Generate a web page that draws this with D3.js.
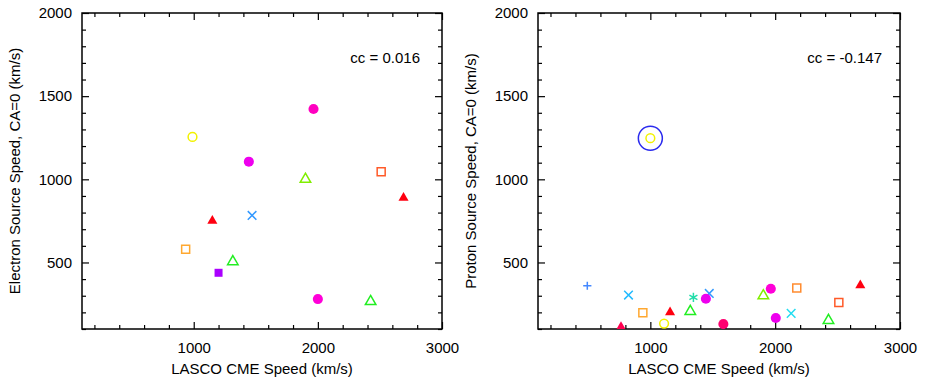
<!DOCTYPE html>
<html>
<head>
<meta charset="utf-8">
<script src="https://cdn.jsdelivr.net/npm/d3@7"></script>
<style>
  html, body { margin: 0; padding: 0; background: #fff; }
  svg { display: block; font-family: "Liberation Sans", Arial, Helvetica, sans-serif; }
</style>
</head>
<body>
<svg id="chart" width="925" height="388"></svg>
<script>
// ---------- Data ----------
// Electron panel (left)
const electronCME   = [990, 1965, 1444, 1900, 2510, 2690, 1150, 1470, 935, 1315, 1200, 2000, 2425];
const electronSpeed = [1255, 1423, 1106, 1000, 1045, 889, 750, 783, 580, 505, 438, 280, 265];
const electronMark  = ["yellowCircle", "pinkDot", "magentaDot", "limeTri", "redSquare", "redTri", "redTri",
                       "blueX", "orangeSquare", "greenTri", "purpleSquare", "magentaDot2", "greenTri"];
const electronCC = "cc = 0.016";

// Proton panel (right)
const protonCME   = [1000, 495, 825, 940, 765, 1110, 1158, 1320, 1345, 1472, 1445, 1585, 1905, 1965, 2005, 2128, 2173, 2427, 2510, 2682];
const protonSpeed = [1247, 360, 304, 198, 112, 133, 200, 206, 290, 314, 282, 130, 300, 342, 166, 194, 346, 152, 260, 362];
const protonMark  = ["yellowCircle", "bluePlus", "cyanX", "orangeSquare", "crimsonTri", "yellowCircle", "redTri",
                     "greenTri", "tealStar", "blueX", "magentaDot", "crimsonDot", "limeTri", "magentaDot2",
                     "magentaDot", "cyanX2", "orangeSquare2", "greenTri", "redSquare", "redTri"];
const protonCC = "cc = -0.147";
const protonHighlight = [0]; // index of circled point

// Axis ticks
const xMajorTicks = [1000, 2000, 3000];
const yMajorTicks = [500, 1000, 1500, 2000];
const xDomain = [100, 3000];
const yDomain = [100, 2000];

// ---------- Marker styles ----------
const styles = {
  yellowCircle:  {type: d3.symbolCircle,   size: 60, fill: "none",    stroke: "#f2f200"},
  pinkDot:       {type: d3.symbolCircle,   size: 80, fill: "#ff00c0", stroke: "none"},
  magentaDot:    {type: d3.symbolCircle,   size: 80, fill: "#ee00ee", stroke: "none"},
  magentaDot2:   {type: d3.symbolCircle,   size: 80, fill: "#ff00d8", stroke: "none"},
  crimsonDot:    {type: d3.symbolCircle,   size: 80, fill: "#ff0070", stroke: "none"},
  limeTri:       {type: d3.symbolTriangle, size: 48, fill: "none",    stroke: "#80ee00"},
  greenTri:      {type: d3.symbolTriangle, size: 48, fill: "none",    stroke: "#22ee22"},
  redTri:        {type: d3.symbolTriangle, size: 44, fill: "#ff0010", stroke: "none"},
  crimsonTri:    {type: d3.symbolTriangle, size: 44, fill: "#ff0050", stroke: "none"},
  redSquare:     {type: d3.symbolSquare,   size: 64, fill: "none",    stroke: "#ff5a28"},
  orangeSquare:  {type: d3.symbolSquare,   size: 64, fill: "none",    stroke: "#ffa830"},
  orangeSquare2: {type: d3.symbolSquare,   size: 64, fill: "none",    stroke: "#ff8c30"},
  purpleSquare:  {type: d3.symbolSquare,   size: 64, fill: "#aa00ff", stroke: "none"},
  blueX:         {type: d3.symbolTimes,    size: 50, fill: "none",    stroke: "#3399ff"},
  cyanX:         {type: d3.symbolTimes,    size: 50, fill: "none",    stroke: "#22bbff"},
  cyanX2:        {type: d3.symbolTimes,    size: 50, fill: "none",    stroke: "#22ddf0"},
  bluePlus:      {type: d3.symbolPlus,     size: 24, fill: "none",    stroke: "#4488ff"},
  tealStar:      {type: d3.symbolAsterisk, size: 60, fill: "none",    stroke: "#22ddaa"}
};

// ---------- Layout ----------
const svg = d3.select("#chart");
const panels = [
  {left: 82, right: 442, cme: electronCME, speed: electronSpeed, mark: electronMark, cc: electronCC, ccX: 420,
   yTitle: "Electron Source Speed, CA=0 (km/s)", titleX: 15, highlight: []},
  {left: 538, right: 900, cme: protonCME, speed: protonSpeed, mark: protonMark, cc: protonCC, ccX: 882,
   yTitle: "Proton Source Speed, CA=0 (km/s)", titleX: 471, highlight: protonHighlight}
];
const plotTop = 13, plotBottom = 329;

function range(a, b, step) { const r = []; for (let v = a; v <= b + 1e-9; v += step) r.push(v); return r; }
const xMinor = range(200, 2800, 200).filter(v => !xMajorTicks.includes(v));
const yMinor = range(100, 1900, 100).filter(v => !yMajorTicks.includes(v));

panels.forEach(p => {
  const x = d3.scaleLinear().domain(xDomain).range([p.left, p.right]);
  const y = d3.scaleLinear().domain(yDomain).range([plotBottom, plotTop]);
  const g = svg.append("g");

  const styleAxis = sel => {
    sel.select(".domain").remove();
    sel.selectAll(".tick line").attr("stroke", "#000").attr("stroke-width", 1.2);
    sel.selectAll(".tick text").attr("fill", "#000").style("font-size", "15px")
       .style("font-family", "'Liberation Sans', Arial, sans-serif");
  };

  // bottom
  g.append("g").attr("transform", `translate(0,${plotBottom})`)
    .call(d3.axisBottom(x).tickValues(xMinor).tickSize(-4).tickFormat("")).call(styleAxis);
  g.append("g").attr("transform", `translate(0,${plotBottom})`)
    .call(d3.axisBottom(x).tickValues(xMajorTicks).tickSizeInner(-7).tickSizeOuter(0).tickPadding(13).tickFormat(d3.format("d")))
    .call(styleAxis);
  // top
  g.append("g").attr("transform", `translate(0,${plotTop})`)
    .call(d3.axisTop(x).tickValues(xMinor).tickSize(-4).tickFormat("")).call(styleAxis);
  g.append("g").attr("transform", `translate(0,${plotTop})`)
    .call(d3.axisTop(x).tickValues(xMajorTicks).tickSize(-7).tickFormat("")).call(styleAxis);
  // left
  g.append("g").attr("transform", `translate(${p.left},0)`)
    .call(d3.axisLeft(y).tickValues(yMinor).tickSize(-4).tickFormat("")).call(styleAxis);
  g.append("g").attr("transform", `translate(${p.left},0)`)
    .call(d3.axisLeft(y).tickValues(yMajorTicks).tickSizeInner(-7).tickSizeOuter(0).tickPadding(10).tickFormat(d3.format("d")))
    .call(styleAxis);
  // right
  g.append("g").attr("transform", `translate(${p.right},0)`)
    .call(d3.axisRight(y).tickValues(yMinor).tickSize(-4).tickFormat("")).call(styleAxis);
  g.append("g").attr("transform", `translate(${p.right},0)`)
    .call(d3.axisRight(y).tickValues(yMajorTicks).tickSize(-7).tickFormat("")).call(styleAxis);

  // frame
  g.append("rect").attr("x", p.left).attr("y", plotTop)
    .attr("width", p.right - p.left).attr("height", plotBottom - plotTop)
    .attr("fill", "none").attr("stroke", "#000").attr("stroke-width", 1.5);

  // titles
  g.append("text").attr("x", (p.left + p.right) / 2).attr("y", 374)
    .attr("text-anchor", "middle").style("font-size", "15px").text("LASCO CME Speed (km/s)");
  g.append("text").attr("transform", `translate(${p.titleX},${(plotTop + plotBottom) / 2}) rotate(-90)`)
    .attr("text-anchor", "middle").attr("dy", "0.35em").style("font-size", "15px").text(p.yTitle);
  g.append("text").attr("x", p.ccX).attr("y", 63).attr("text-anchor", "end")
    .style("font-size", "15px").text(p.cc);

  // clip
  const clipId = "clip" + p.left;
  svg.append("clipPath").attr("id", clipId).append("rect")
    .attr("x", p.left).attr("y", plotTop).attr("width", p.right - p.left).attr("height", plotBottom - plotTop);

  const pts = g.append("g").attr("clip-path", `url(#${clipId})`);
  p.cme.forEach((cx, i) => {
    const s = styles[p.mark[i]];
    pts.append("path")
      .attr("d", d3.symbol().type(s.type).size(s.size)())
      .attr("transform", `translate(${x(cx)},${y(p.speed[i])})`)
      .attr("fill", s.fill).attr("stroke", s.stroke).attr("stroke-width", 1.5);
  });
  p.highlight.forEach(i => {
    pts.append("circle").attr("cx", x(p.cme[i])).attr("cy", y(p.speed[i])).attr("r", 12)
      .attr("fill", "none").attr("stroke", "#2a2aee").attr("stroke-width", 1.5);
  });
});
</script>
</body>
</html>
